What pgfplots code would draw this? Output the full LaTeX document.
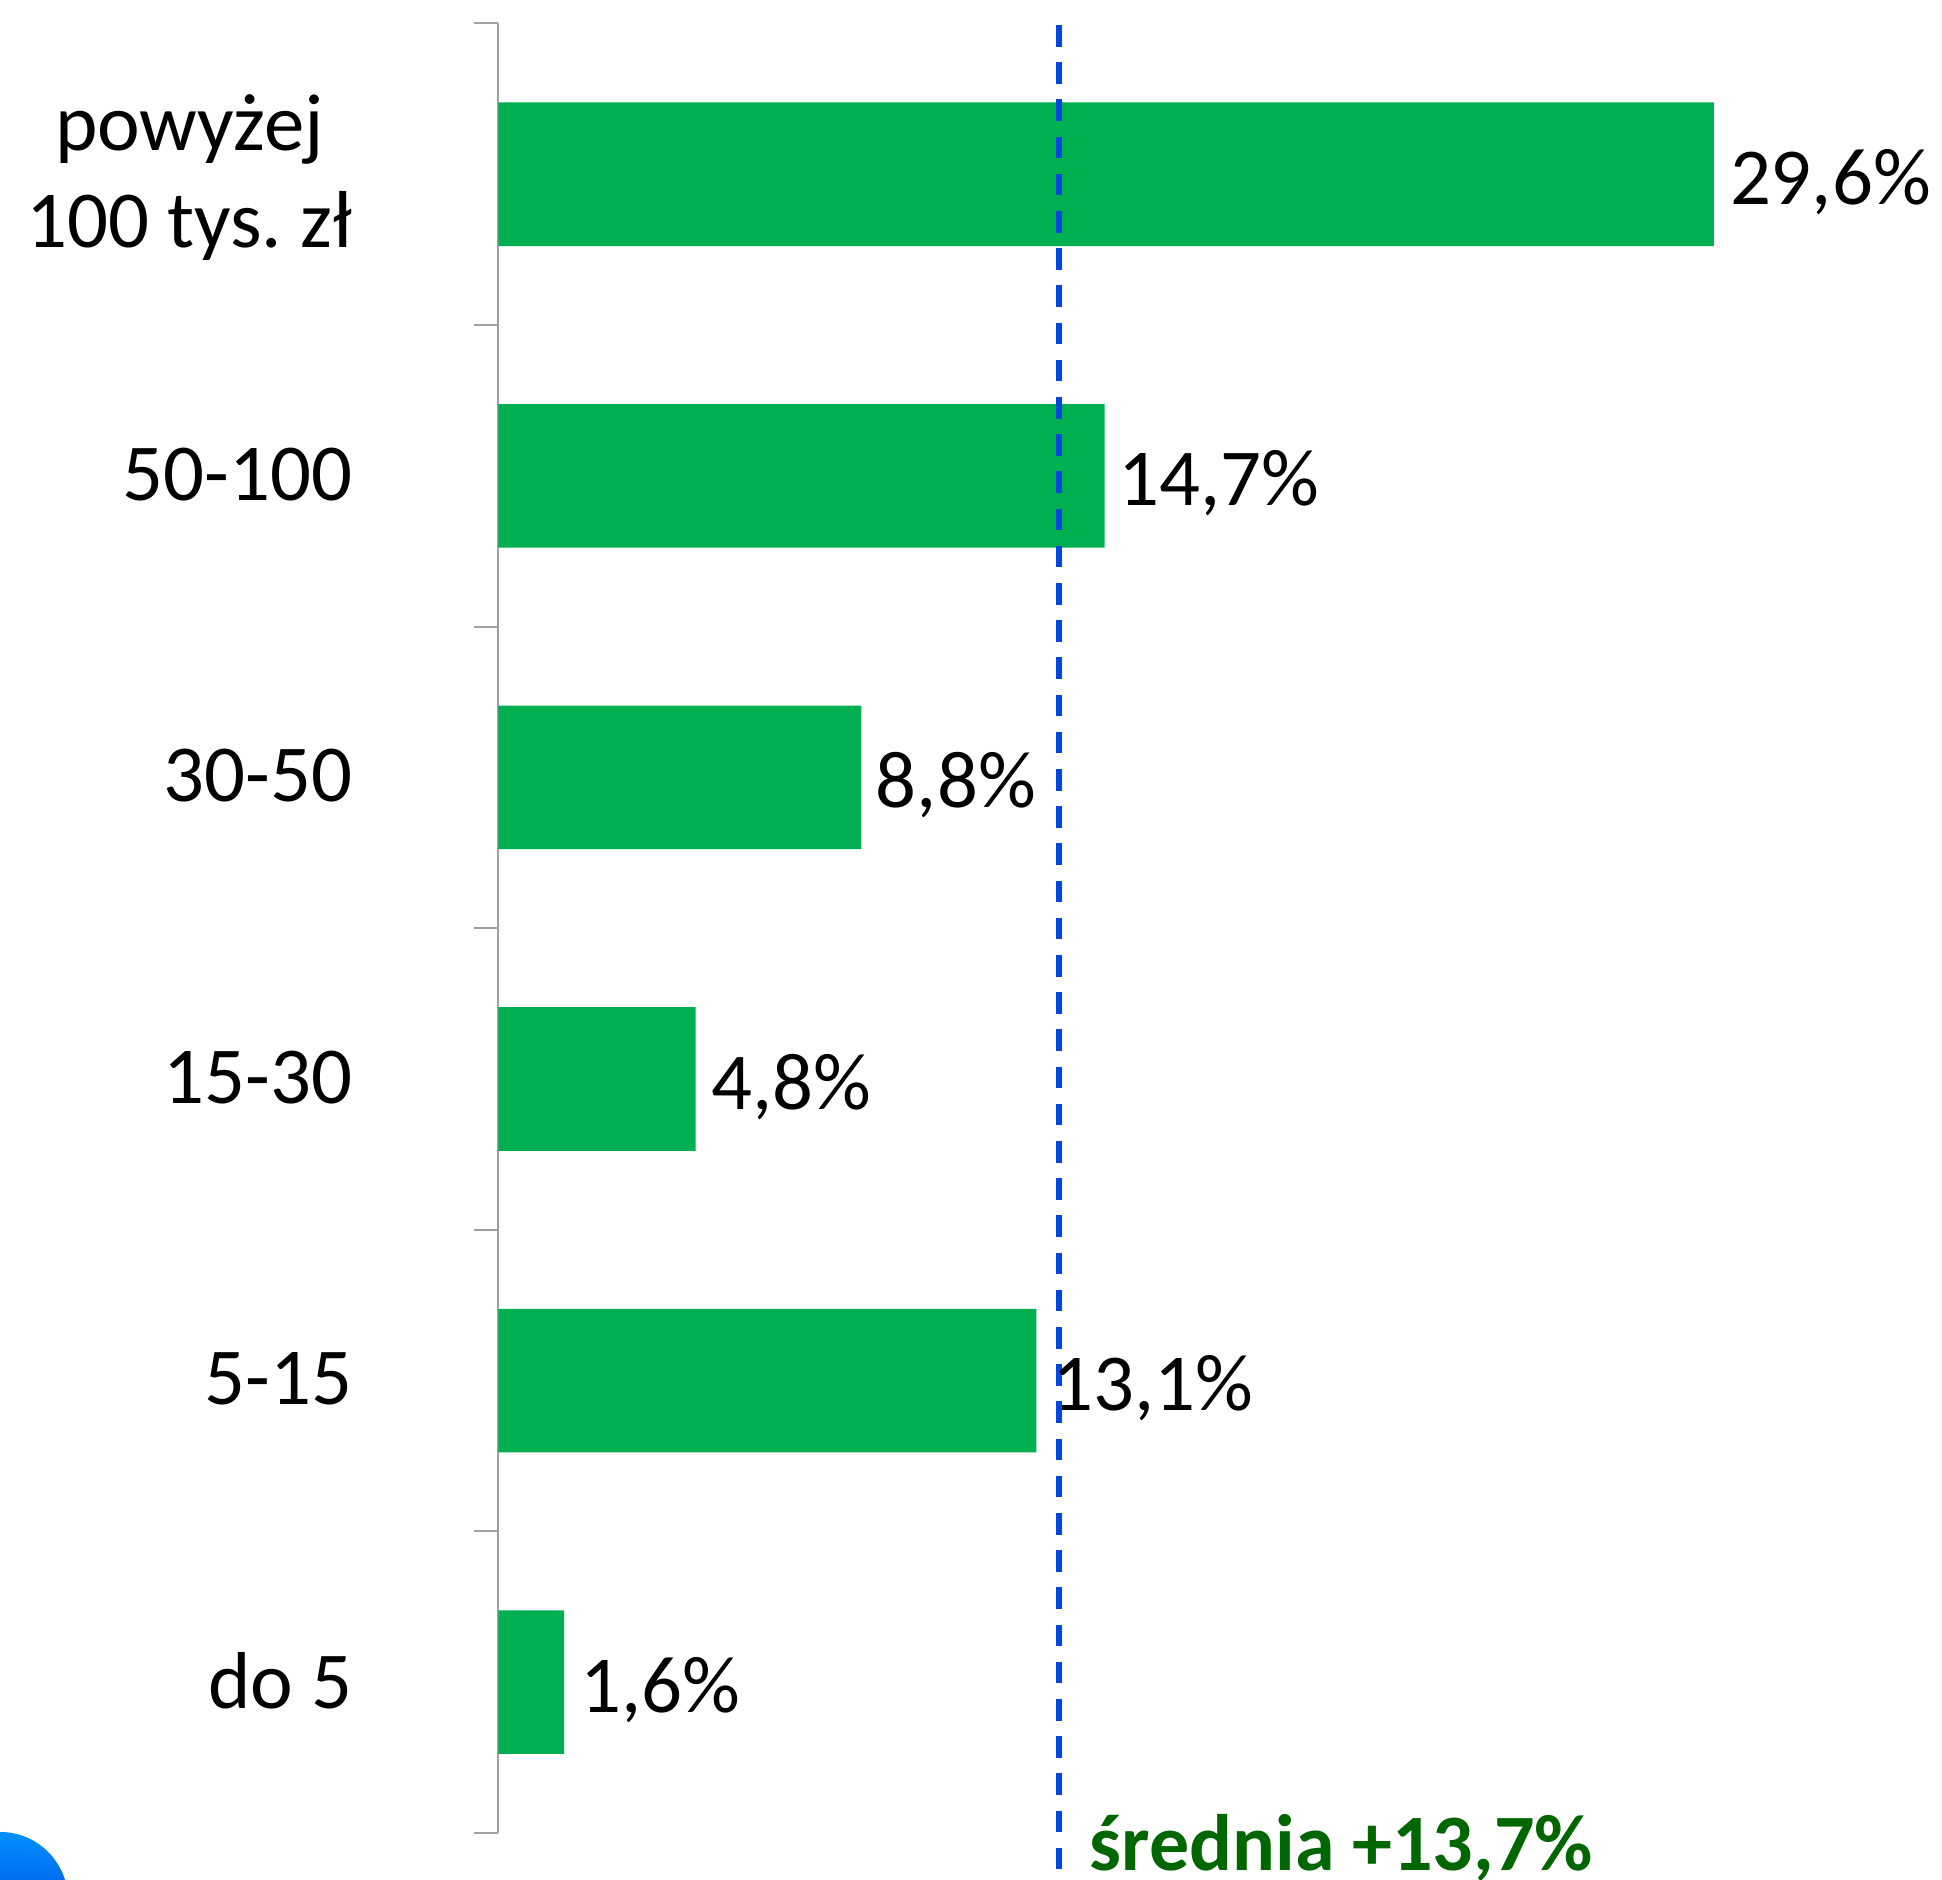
\documentclass[border=0pt]{standalone}
\usepackage{fontspec}
\setmainfont{Carlito}
\frenchspacing
\usepackage{pgfplots}
\pgfplotsset{compat=1.18}
\definecolor{barg}{HTML}{00B050}
\definecolor{avgb}{HTML}{0047E0}
\definecolor{avgt}{HTML}{006600}
\definecolor{axg}{HTML}{A0A0A0}
\definecolor{dottop}{HTML}{0090FF}
\definecolor{dotbot}{HTML}{0030D0}
\begin{document}
\begin{tikzpicture}
\path[use as bounding box] (0,0) rectangle (485.5pt,470pt);
\begin{scope}
\clip (0,0) rectangle (485.5pt,470pt);
\shade[top color=dottop, bottom color=dotbot] (0pt,-5pt) circle (17pt);
\end{scope}
\begin{axis}[
  at={(124.625pt,11.75pt)}, anchor=south west,
  scale only axis, width=360.875pt, height=452.375pt,
  xmin=0, xmax=35.155, ymin=-0.5, ymax=5.5,
  clip=false,
  axis x line=none,
  axis y line=left,
  axis line style={-, draw=axg, line width=0.5pt},
  ytick={0,1,2,3,4,5},
  yticklabels={do 5,5-15,15-30,30-50,50-100,{\rule{0pt}{16.5pt}powyżej\\100 tys. zł}},
  minor ytick={-0.5,0.5,1.5,2.5,3.5,4.5,5.5},
  major tick length=0pt,
  minor tick length=6.2pt,
  tick align=outside,
  minor tick style={draw=axg, line width=0.5pt},
  yticklabel style={anchor=east, align=center, xshift=-33pt, yshift=0.4pt,
    font=\fontsize{20.2}{24.4}\selectfont},
]
\addplot[xbar, bar width=35.9pt, bar shift=0pt, fill=barg, draw=none]
  coordinates {(1.6,0) (13.1,1) (4.8,2) (8.84,3) (14.76,4) (29.6,5)};
\addplot[avgb, line width=1.4pt, dash pattern=on 5.4pt off 3.9pt]
  coordinates {(13.65,5.495) (13.65,-0.629)};
\addplot[draw=none, mark=none, point meta=x,
  nodes near coords={\pgfmathprintnumber{\pgfplotspointmeta}\%},
  nodes near coords align={horizontal},
  every node near coord/.append style={
    anchor=west, text=black, xshift=0.5pt, yshift=-1.9pt,
    font=\fontsize{20.2}{24.4}\selectfont,
    /pgf/number format/.cd, fixed, fixed zerofill, precision=1, use comma, assume math mode=true},
]
  coordinates {(1.6,0) (13.1,1) (4.8,2) (8.8,3) (14.7,4) (29.6,5)};
\node[anchor=base west, inner sep=0pt, text=avgt, font=\fontsize{20}{24}\selectfont\bfseries]
  at (axis cs:14.38,-0.626) {średnia +13,7\%};
\end{axis}
\end{tikzpicture}
\end{document}
